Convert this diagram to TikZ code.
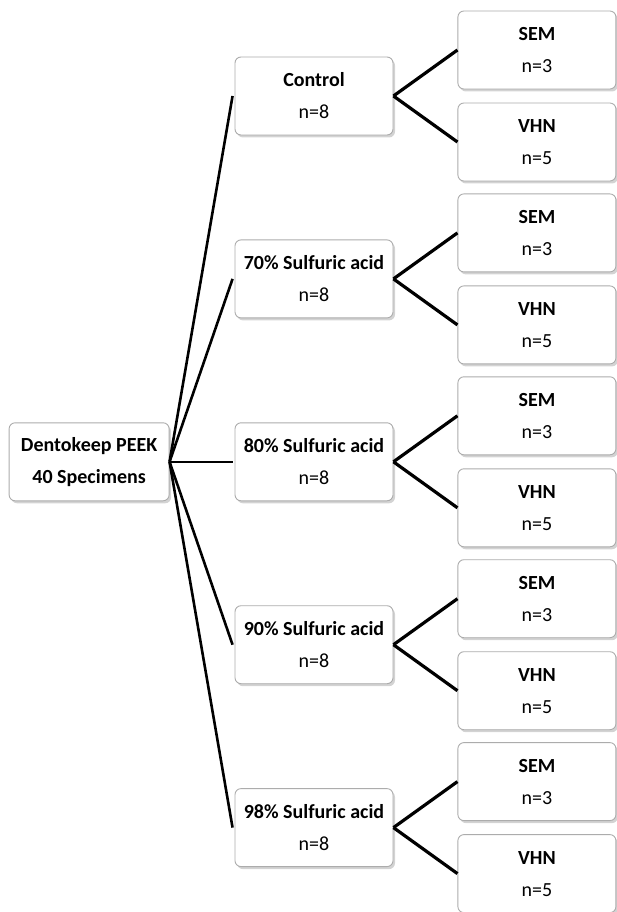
\documentclass[tikz,border=0pt]{standalone}
\usepackage{fontspec}
\setmainfont{Carlito}
\usepackage{tikz}
\usetikzlibrary{positioning, shadows}

\begin{document}
\begin{tikzpicture}[
        x=1pt, y=1pt,
        box/.style={
            rectangle,
            draw=gray!65,
            line width=0.9pt,
            fill=white,
            rounded corners=6pt,
            minimum width=158pt,
            minimum height=78pt,
            align=center,
            inner sep=0pt,
            font=\fontsize{20}{32}\selectfont,
            drop shadow={opacity=0.35, shadow xshift=2pt, shadow yshift=-2.5pt}
        },
        root/.style={box, minimum width=160pt},
        trunk/.style={line width=2.6pt},
        twig/.style={line width=3.2pt}
    ]

    \useasboundingbox (0,0) rectangle (616,-912);

    % Nodes
    \node[box] (ctrl) at (314,-96) {\textbf{Control}\\n=8};
    \node[box, below=104pt of ctrl] (acid70) {\textbf{70\% Sulfuric acid}\\n=8};
    \node[box, below=104pt of acid70] (acid80) {\textbf{80\% Sulfuric acid}\\n=8};
    \node[box, below=104pt of acid80] (acid90) {\textbf{90\% Sulfuric acid}\\n=8};
    \node[box, below=104pt of acid90] (acid98) {\textbf{98\% Sulfuric acid}\\n=8};
    \node[root, left=65pt of acid80] (peek) {\textbf{Dentokeep PEEK}\\\textbf{40 Specimens}};

    \node[box, right=64pt of ctrl, yshift=46pt] (ctrl sem) {\textbf{SEM}\\n=3};
    \node[box, right=64pt of ctrl, yshift=-46pt] (ctrl vhn) {\textbf{VHN}\\n=5};
    \node[box, right=64pt of acid70, yshift=46pt] (acid70 sem) {\textbf{SEM}\\n=3};
    \node[box, right=64pt of acid70, yshift=-46pt] (acid70 vhn) {\textbf{VHN}\\n=5};
    \node[box, right=64pt of acid80, yshift=46pt] (acid80 sem) {\textbf{SEM}\\n=3};
    \node[box, right=64pt of acid80, yshift=-46pt] (acid80 vhn) {\textbf{VHN}\\n=5};
    \node[box, right=64pt of acid90, yshift=46pt] (acid90 sem) {\textbf{SEM}\\n=3};
    \node[box, right=64pt of acid90, yshift=-46pt] (acid90 vhn) {\textbf{VHN}\\n=5};
    \node[box, right=64pt of acid98, yshift=46pt] (acid98 sem) {\textbf{SEM}\\n=3};
    \node[box, right=64pt of acid98, yshift=-46pt] (acid98 vhn) {\textbf{VHN}\\n=5};

    % Lines
    \foreach \g in {ctrl, acid70, acid80, acid90, acid98} {
        \draw[trunk] (peek.east) -- ([xshift=-2pt]\g.west);
        \draw[twig] (\g.east) -- (\g\space sem.west);
        \draw[twig] (\g.east) -- (\g\space vhn.west);
    }

\end{tikzpicture}
\end{document}
